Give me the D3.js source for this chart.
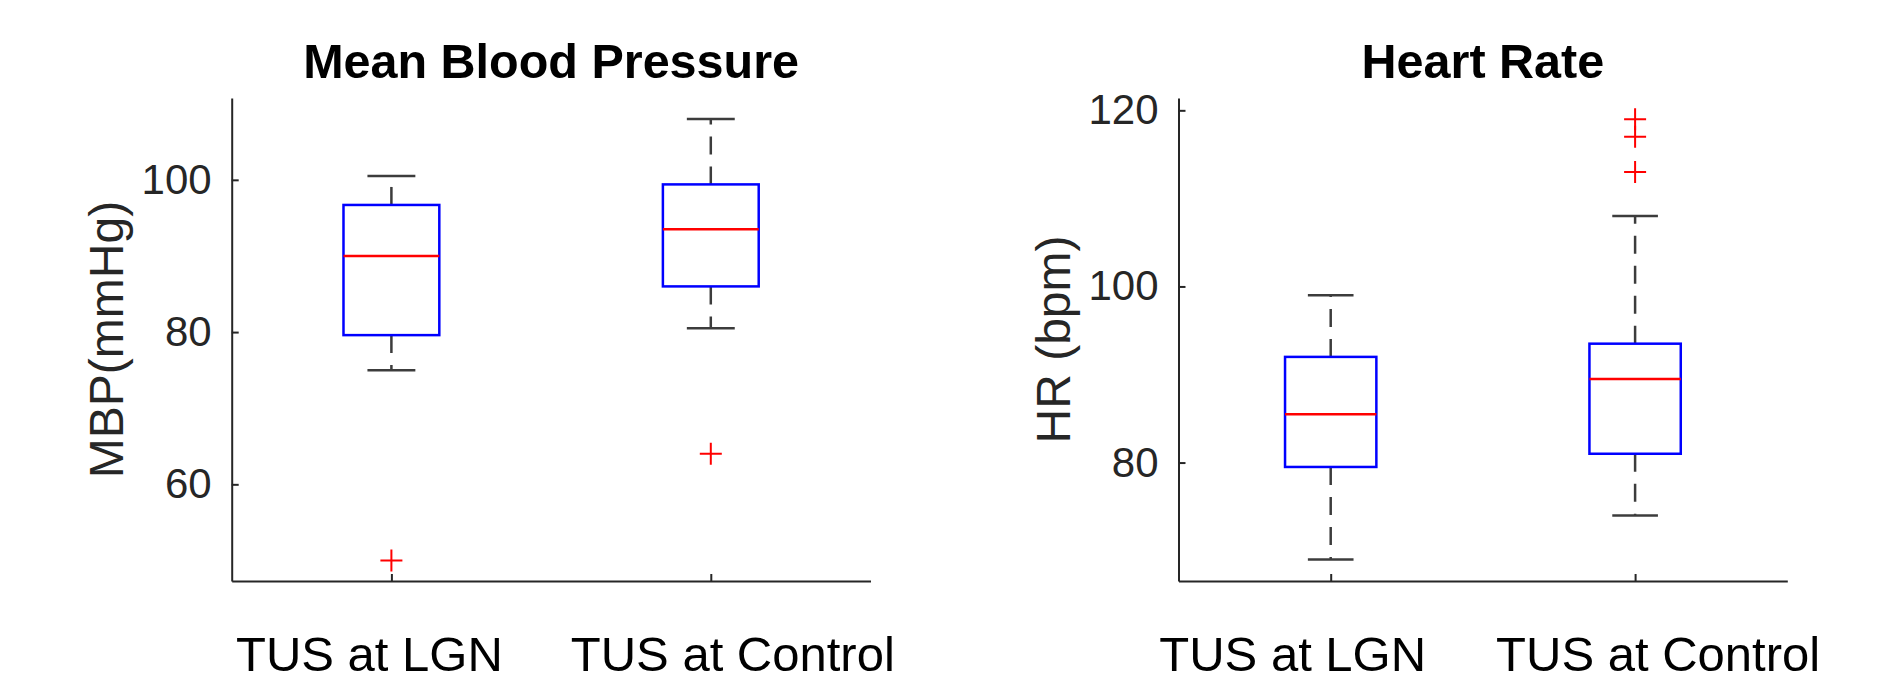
<!DOCTYPE html>
<html lang="en">
  <head>
    <meta charset="UTF-8" />
    <title>MBP and HR</title>
    <script src="https://d3js.org/d3.v7.min.js"></script>
    <style>
      body { margin: 0; background: #fff; }
      text { font-family: "Liberation Sans", Arial, Helvetica, sans-serif; }
    </style>
  </head>
  <body>
    <svg width="1879" height="682"></svg>
    <script>
      // categories
      var categories = ["TUS at LGN", "TUS at Control"];

      // Mean Blood Pressure (mmHg)
      var mbpLow = [75.0, 80.5];
      var mbpQ1 = [79.6, 86.0];
      var mbpMedian = [90.0, 93.5];
      var mbpQ3 = [96.7, 99.4];
      var mbpHigh = [100.5, 108.0];
      var mbpOutliers = [[50.0], [64.0]];
      var mbpTicks = [60, 80, 100];
      var mbpDomain = [47.3, 110.75];

      // Heart Rate (bpm)
      var hrLow = [69.0, 74.0];
      var hrQ1 = [79.5, 81.0];
      var hrMedian = [85.5, 89.5];
      var hrQ3 = [92.0, 93.5];
      var hrHigh = [99.0, 108.0];
      var hrOutliers = [[], [119.0, 117.0, 113.0]];
      var hrTicks = [80, 100, 120];
      var hrDomain = [66.55, 121.4];

      const svg = d3.select("svg");
      const axisColor = "#262626";
      const plotTop = 98, plotBottom = 581;

      function drawPanel(o) {
        const g = svg.append("g");
        const x = d3.scaleLinear().domain([0.5, 2.5]).range([o.left, o.right]);
        const y = d3.scaleLinear().domain(o.domain).range([plotBottom, plotTop]);

        // y axis (ticks inside)
        const ya = g.append("g")
          .attr("transform", `translate(${o.left},0)`)
          .call(d3.axisLeft(y).tickValues(o.ticks).tickSizeInner(-7).tickSizeOuter(0).tickPadding(20));
        ya.select(".domain").attr("stroke", axisColor).attr("stroke-width", 2);
        ya.selectAll(".tick line").attr("stroke", axisColor).attr("stroke-width", 2);
        ya.selectAll(".tick text").attr("fill", axisColor).attr("font-size", 42)
          .attr("font-family", "Liberation Sans, Arial, sans-serif");

        // x axis (ticks inside, labels placed separately)
        const xa = g.append("g")
          .attr("transform", `translate(0,${plotBottom})`)
          .call(d3.axisBottom(x).tickValues([1, 2]).tickSizeInner(-7).tickSizeOuter(0).tickFormat(""));
        xa.select(".domain").attr("stroke", axisColor).attr("stroke-width", 2);
        xa.selectAll(".tick line").attr("stroke", axisColor).attr("stroke-width", 2);

        g.selectAll(".xlab")
          .data(categories)
          .enter()
          .append("text")
          .attr("class", "xlab")
          .attr("x", (d, i) => x(i + 1) + o.labelShift[i])
          .attr("y", 671)
          .attr("text-anchor", "middle")
          .attr("font-size", 49)
          .attr("fill", "#000")
          .text(d => d);

        // title
        g.append("text")
          .attr("x", (o.left + o.right) / 2)
          .attr("y", 78)
          .attr("text-anchor", "middle")
          .attr("font-size", 48.5)
          .attr("font-weight", "bold")
          .attr("fill", "#000")
          .text(o.title);

        // y label
        g.append("text")
          .attr("transform", `translate(${o.left - 109},${(plotTop + plotBottom) / 2}) rotate(-90)`)
          .attr("text-anchor", "middle")
          .attr("font-size", 48)
          .attr("fill", axisColor)
          .text(o.ylabel);

        const boxW = 0.3, capW = 0.15;
        categories.forEach((c, i) => {
          const cx = i + 1;
          // whiskers
          [[o.q3[i], o.high[i]], [o.q1[i], o.low[i]]].forEach(w => {
            g.append("line")
              .attr("x1", x(cx)).attr("x2", x(cx))
              .attr("y1", y(w[0])).attr("y2", y(w[1]))
              .attr("stroke", "#3c3c3c").attr("stroke-width", 2.5)
              .attr("stroke-dasharray", "18,12");
            g.append("line")
              .attr("x1", x(cx - capW / 2)).attr("x2", x(cx + capW / 2))
              .attr("y1", y(w[1])).attr("y2", y(w[1]))
              .attr("stroke", "#3c3c3c").attr("stroke-width", 2.5);
          });
          // box
          g.append("rect")
            .attr("x", x(cx - boxW / 2))
            .attr("y", y(o.q3[i]))
            .attr("width", x(cx + boxW / 2) - x(cx - boxW / 2))
            .attr("height", y(o.q1[i]) - y(o.q3[i]))
            .attr("fill", "none")
            .attr("stroke", "#0000ff")
            .attr("stroke-width", 2.5);
          // median
          g.append("line")
            .attr("x1", x(cx - boxW / 2)).attr("x2", x(cx + boxW / 2))
            .attr("y1", y(o.median[i])).attr("y2", y(o.median[i]))
            .attr("stroke", "#ff0000").attr("stroke-width", 2.5);
          // outliers
          g.selectAll(null)
            .data(o.outliers[i])
            .enter()
            .append("path")
            .attr("d", d => `M${x(cx) - 11},${y(d)}h22M${x(cx)},${y(d) - 11}v22`)
            .attr("stroke", "#ff0000")
            .attr("stroke-width", 2)
            .attr("fill", "none");
        });
      }

      drawPanel({
        title: "Mean Blood Pressure", ylabel: "MBP(mmHg)",
        left: 231.7, right: 870.5, domain: mbpDomain, ticks: mbpTicks,
        low: mbpLow, q1: mbpQ1, median: mbpMedian, q3: mbpQ3, high: mbpHigh, outliers: mbpOutliers,
        labelShift: [-22, 22]
      });
      drawPanel({
        title: "Heart Rate", ylabel: "HR (bpm)",
        left: 1178.5, right: 1787.3, domain: hrDomain, ticks: hrTicks,
        low: hrLow, q1: hrQ1, median: hrMedian, q3: hrQ3, high: hrHigh, outliers: hrOutliers,
        labelShift: [-38, 23]
      });
    </script>
  </body>
</html>
